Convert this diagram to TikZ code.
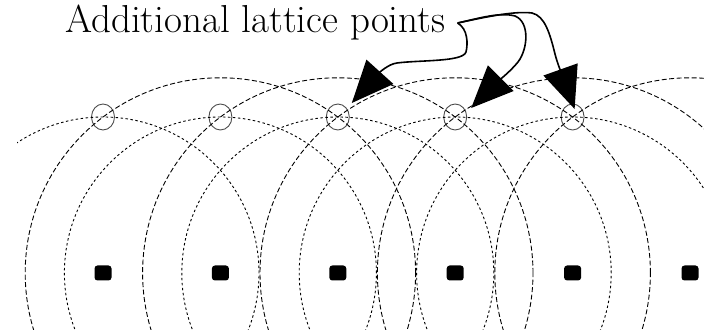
\documentclass[tikz,border=0pt]{standalone}
\usetikzlibrary{positioning, calc, arrows.meta, shapes.geometric}

\begin{document}
\begin{tikzpicture}[x=1pt, y=1pt, node distance=117.4pt, on grid]

    % Styles for sites, marks, rings and pointers
    \tikzset{
        sitedot/.style={fill=black, rounded corners=3pt, minimum width=17pt, minimum height=15pt, inner sep=0pt},
        latmark/.style={ellipse, draw=black!70, line width=0.9pt, minimum width=23pt, minimum height=26pt, inner sep=0pt},
        longring/.style={line width=0.9pt, dash pattern=on 5pt off 2.5pt},
        shortring/.style={line width=0.9pt, dash pattern=on 2.5pt off 2.5pt},
        pointer/.style={line width=1.6pt, -{Triangle[length=42pt, width=36pt]}}
    }
    \useasboundingbox (0,0) rectangle (704,334);

    % ==========================================
    % Lattice sites
    % ==========================================
    \node[sitedot] (d1) at (103,61) {};
    \node[sitedot, right=of d1] (d2) {};
    \node[sitedot, right=of d2] (d3) {};
    \node[sitedot, right=of d3] (d4) {};
    \node[sitedot, right=of d4] (d5) {};
    \node[sitedot, right=of d5] (d6) {};

    % Additional lattice points
    \foreach \i in {1,...,5}
        \node[latmark, above=156pt of d\i] (l\i) {};

    % ==========================================
    % Rings round the sites
    % ==========================================
    \begin{scope}
        \clip (17,4) rectangle (704,334);
        \foreach \i in {1,...,5}
            \draw[shortring] (d\i) circle[radius=156];
        \foreach \i in {2,...,6}
            \draw[longring] (d\i) circle[radius=195.2];
    \end{scope}

    % ==========================================
    % Label and pointers
    % ==========================================
    \node[anchor=base west, inner sep=0pt, font=\fontsize{39}{44}\selectfont] (label) at (65,301) {Additional lattice points};
    \coordinate[right=12pt of label.east] (src);

    \draw[pointer] (src) .. controls (468,305) and (468,290) .. (466,282)
        .. controls (463,272) and (420,274) .. (397,271)
        .. controls (388,270) and (378,260) .. ([shift={(14,14)}]l3.center);
    \draw[pointer] (src) .. controls (480,316) and (500,322) .. (515,318)
        .. controls (530,312) and (528,285) .. (518,272)
        .. controls (510,262) and (495,250) .. ([shift={(16,9)}]l4.center);
    \draw[pointer] (src) .. controls (490,318) and (515,323) .. (532,321)
        .. controls (545,318) and (550,300) .. (555,280)
        .. controls (558,268) and (565,252) .. ([shift={(2,8)}]l5.center);

\end{tikzpicture}
\end{document}
